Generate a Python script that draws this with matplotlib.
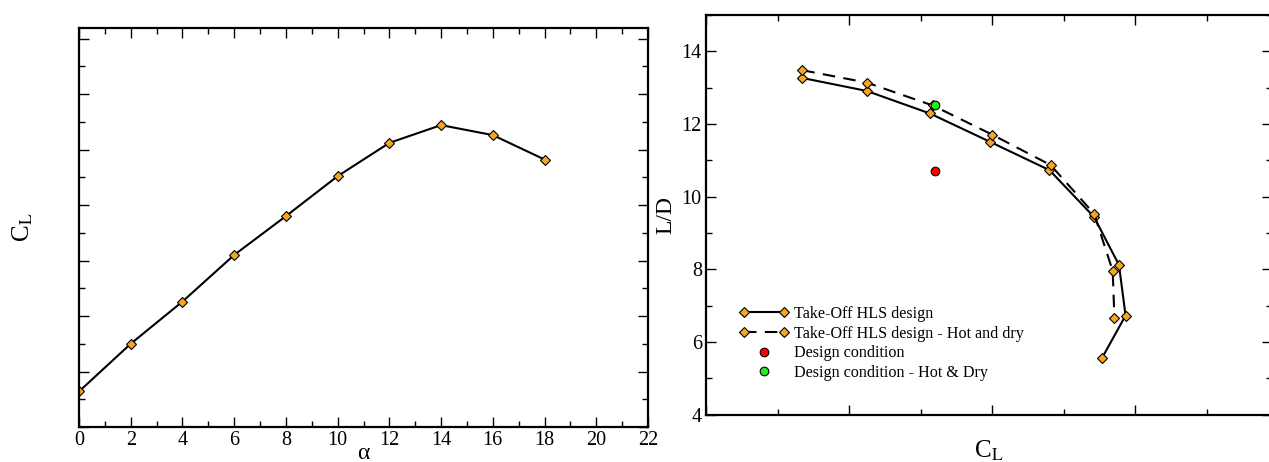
import matplotlib
matplotlib.use("Agg")
import matplotlib.pyplot as plt
from matplotlib.ticker import MultipleLocator, NullFormatter
from matplotlib.legend_handler import HandlerLine2D

plt.rcParams['font.family'] = ['Liberation Serif', 'DejaVu Serif']
plt.rcParams['mathtext.fontset'] = 'stix'

# ---- data: left panel (C_L vs alpha) ----
alpha = [0, 2, 4, 6, 8, 10, 12, 14, 16, 18]
cl_alpha = [0.32, 0.75, 1.13, 1.55, 1.90, 2.26, 2.56, 2.72, 2.63, 2.41]

# ---- data: right panel (L/D vs C_L) ----
cl_takeoff = [1.335, 1.562, 1.783, 1.993, 2.201, 2.357, 2.444, 2.467, 2.384]
ld_takeoff = [13.27, 12.91, 12.29, 11.51, 10.73, 9.44, 8.12, 6.73, 5.55]
cl_hot = [1.337, 1.562, 1.793, 2.000, 2.205, 2.357, 2.422, 2.428]
ld_hot = [13.48, 13.14, 12.51, 11.71, 10.87, 9.53, 7.96, 6.66]
cl_design = [1.80]
ld_design = [10.71]
cl_design_hot = [1.80]
ld_design_hot = [12.51]

labels = ["Take-Off HLS design", "Take-Off HLS design - Hot and dry",
          "Design condition", "Design condition - Hot & Dry"]

W, H = 1269, 462
fig = plt.figure(figsize=(W / 100, H / 100), dpi=100)

def rect(x0, y0, x1, y1):
    return [x0 / W, 1 - y1 / H, (x1 - x0) / W, (y1 - y0) / H]

orange = '#F5A623'
mk = dict(marker='D', markersize=4.8, markerfacecolor=orange, markeredgecolor='black',
          markeredgewidth=0.8)

# ---- left axes ----
ax1 = fig.add_axes(rect(79, 28, 648, 427))
ax1.plot(alpha, cl_alpha, color='black', lw=1.5, **mk)
ax1.set_xlim(0, 22)
ax1.set_ylim(0, 3.595)
ax1.xaxis.set_major_locator(MultipleLocator(2))
ax1.xaxis.set_minor_locator(MultipleLocator(1))
ax1.yaxis.set_major_locator(MultipleLocator(0.5))
ax1.yaxis.set_minor_locator(MultipleLocator(0.25))
ax1.yaxis.set_major_formatter(NullFormatter())
ax1.set_xlabel('α', fontsize=17, labelpad=-5)
ax1.set_ylabel('C$_{\\mathrm{L}}$', fontsize=18, labelpad=28)

# ---- right axes ----
ax2 = fig.add_axes(rect(706, 15, 1272, 414.7))
l1, = ax2.plot(cl_takeoff, ld_takeoff, color='black', lw=1.5, **mk)
l2, = ax2.plot(cl_hot, ld_hot, color='black', lw=1.5, dashes=(6, 4), **mk)
l3, = ax2.plot(cl_design, ld_design, linestyle='none', marker='o', markersize=6.2,
               markerfacecolor='#FF0000', markeredgecolor='black', markeredgewidth=0.8)
l4, = ax2.plot(cl_design_hot, ld_design_hot, linestyle='none', marker='o', markersize=6.2,
               markerfacecolor='#22EE22', markeredgecolor='black', markeredgewidth=0.8)
ax2.set_xlim(1.0, 1.0 + (1272 - 706) / 286)
ax2.set_ylim(4, 15)
ax2.xaxis.set_major_locator(MultipleLocator(0.5))
ax2.xaxis.set_minor_locator(MultipleLocator(0.25))
ax2.xaxis.set_major_formatter(NullFormatter())
ax2.yaxis.set_major_locator(MultipleLocator(2))
ax2.yaxis.set_minor_locator(MultipleLocator(1))
ax2.set_xlabel('C$_{\\mathrm{L}}$', fontsize=18, labelpad=14)
ax2.set_ylabel('L/D', fontsize=17, labelpad=4)

for ax in (ax1, ax2):
    ax.tick_params(which='both', direction='in', top=True, right=True,
                   labelsize=14.5, width=1.0)
    ax.tick_params(which='major', length=7.5, pad=3)
    ax.tick_params(which='minor', length=4)
    for s in ax.spines.values():
        s.set_linewidth(1.6)

leg = ax2.legend([l1, l2, l3, l4], labels, loc='upper left',
                 bbox_to_anchor=(738.7 / W, 1 - 306 / H), bbox_transform=fig.transFigure,
                 frameon=False, numpoints=2, handlelength=3.12, handletextpad=0.32,
                 labelspacing=0.23, borderpad=0, borderaxespad=0, fontsize=11.6,
                 handler_map={l3: HandlerLine2D(numpoints=1), l4: HandlerLine2D(numpoints=1)})

fig.savefig('out.png', dpi=100)
